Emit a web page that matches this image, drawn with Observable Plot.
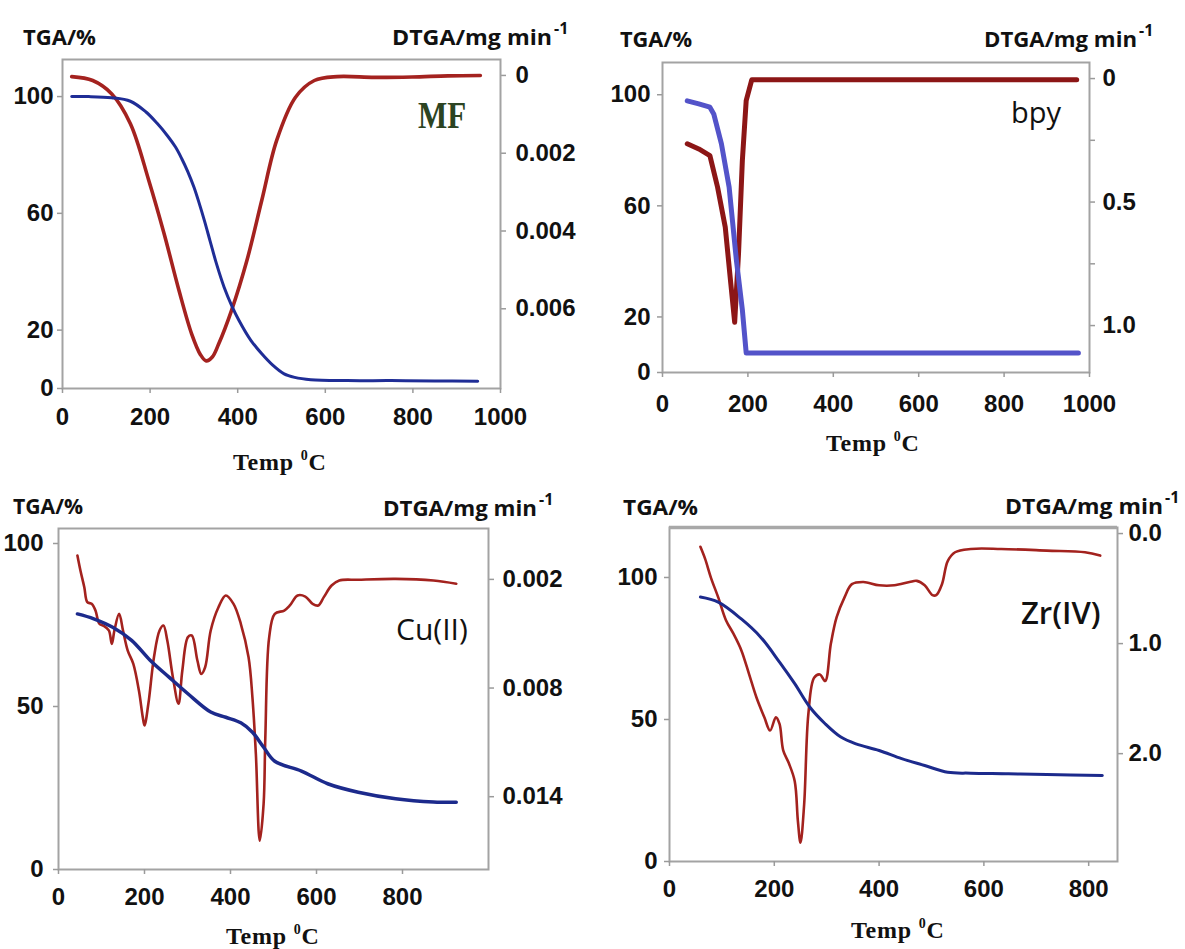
<!DOCTYPE html>
<html><head><meta charset="utf-8">
<script src="https://cdn.jsdelivr.net/npm/d3@7"></script>
<script src="https://cdn.jsdelivr.net/npm/@observablehq/plot@0.6"></script>
<style>
body{margin:0;background:#fff;}
#root{position:relative;width:1185px;height:949px;overflow:hidden;background:#fff;}
.layer{position:absolute;}
</style></head><body><div id="root"></div>
<script>
// ---------- Panel 1: MF ----------
const mfTgaTemp  = [21, 60, 112, 155, 190, 215, 240, 258, 272, 286, 300, 312, 324, 337, 352, 369, 386, 403, 430, 455, 480, 506, 530, 567, 650, 750, 850, 948];
const mfTgaValue = [100, 100, 99.6, 98.4, 94.8, 91.0, 86.5, 82.7, 78.8, 74.3, 69.0, 63.5, 57.5, 50.5, 42.5, 34.7, 28.5, 23.3, 16.5, 11.9, 8.0, 5.0, 3.8, 3.0, 2.7, 2.7, 2.6, 2.5];
const mfDtgaTemp  = [21, 69, 112, 155, 197, 232, 266, 295, 315, 328, 342, 356, 386, 421, 455, 489, 532, 575, 627, 712, 798, 880, 954];
const mfDtgaValue = [0.00003, 0.00013, 0.00047, 0.00124, 0.0027, 0.00407, 0.00553, 0.00665, 0.00718, 0.00734, 0.00724, 0.00692, 0.00604, 0.00476, 0.00321, 0.00167, 0.00056, 0.00013, 0.00003, 0.00005, 0.00004, 0.00001, 0.0];

// ---------- Panel 2: bpy ----------
const bpyTgaTemp  = [58, 85, 111, 120, 138, 156, 173, 187, 196, 974];
const bpyTgaValue = [97.8, 96.7, 95.5, 93.1, 82.3, 66.8, 40.5, 22.6, 7.0, 7.0];
const bpyDtgaTemp  = [58, 85, 111, 129, 147, 160, 169, 178, 187, 196, 209, 970];
const bpyDtgaValue = [0.264, 0.285, 0.312, 0.44, 0.602, 0.831, 0.987, 0.71, 0.332, 0.089, 0.005, 0.005];

// ---------- Panel 3: Cu(II) ----------
const cuTgaTemp  = [44, 82, 126, 170, 213, 257, 301, 354, 389, 424, 451, 477, 503, 565, 626, 697, 784, 872, 925];
const cuTgaValue = [78.4, 76.9, 74.3, 70.3, 64.2, 59.0, 53.9, 48.3, 46.7, 45.0, 42.1, 37.5, 33.2, 30.2, 26.3, 23.7, 21.7, 20.7, 20.6];
const cuDtgaTemp  = [44, 51, 60, 67, 77, 86, 95, 104, 117, 124, 130, 141, 150, 161, 174, 187, 196, 200, 209, 222, 235, 244, 253, 266, 279, 288, 301, 310, 323, 332, 341, 354, 372, 389, 407, 424, 442, 451, 459, 468, 477, 481, 490, 503, 525, 538, 556, 574, 591, 604, 617, 635, 653, 697, 784, 872, 925];
const cuDtgaValue = [0.00068, 0.00151, 0.00243, 0.00326, 0.00335, 0.00372, 0.00445, 0.00455, 0.00482, 0.00556, 0.00482, 0.0039, 0.00482, 0.00593, 0.00666, 0.00814, 0.00961, 0.01007, 0.00887, 0.0063, 0.00482, 0.00455, 0.00538, 0.0074, 0.00887, 0.00703, 0.00519, 0.0051, 0.00648, 0.00722, 0.00685, 0.00482, 0.00354, 0.00289, 0.00335, 0.00445, 0.0063, 0.00851, 0.01164, 0.01643, 0.0144, 0.01072, 0.00519, 0.0039, 0.00372, 0.00344, 0.00289, 0.00295, 0.00335, 0.00344, 0.00298, 0.00234, 0.00206, 0.00202, 0.00197, 0.00206, 0.00224];

// ---------- Panel 4: Zr(IV) ----------
const zrTgaTemp  = [59, 93, 137, 174, 210, 239, 268, 297, 327, 356, 400, 443, 487, 531, 575, 647, 720, 826];
const zrTgaValue = [93.1, 91.3, 85.4, 79.0, 70.2, 62.6, 54.3, 48.5, 43.8, 41.4, 39.1, 36.2, 33.8, 31.4, 31.1, 30.9, 30.6, 30.3];
const zrDtgaTemp  = [59, 68, 79, 93, 108, 122, 137, 152, 166, 181, 192, 203, 210, 217, 228, 239, 245, 250, 257, 265, 276, 287, 297, 308, 319, 334, 348, 370, 400, 429, 458, 472, 487, 502, 509, 520, 531, 545, 575, 633, 720, 793, 822];
const zrDtgaValue = [0.12, 0.23, 0.40, 0.58, 0.79, 0.91, 1.06, 1.28, 1.49, 1.67, 1.79, 1.67, 1.73, 1.97, 2.09, 2.25, 2.61, 2.81, 2.46, 1.64, 1.31, 1.28, 1.34, 1.00, 0.76, 0.58, 0.46, 0.44, 0.47, 0.47, 0.44, 0.43, 0.47, 0.56, 0.56, 0.46, 0.25, 0.17, 0.14, 0.14, 0.155, 0.17, 0.20];

// ---------- Tick labels ----------
const mfXTicks = [0, 200, 400, 600, 800, 1000];
const mfTgaTicks = [0, 20, 60, 100];
const mfDtgaTicks = [0, 0.002, 0.004, 0.006];
const bpyXTicks = [0, 200, 400, 600, 800, 1000];
const bpyTgaTicks = [0, 20, 60, 100];
const bpyDtgaTicks = [0, 0.25, 0.5, 0.75, 1.0];
const bpyDtgaLabels = ["0", "", "0.5", "", "1.0"];
const cuXTicks = [0, 200, 400, 600, 800];
const cuTgaTicks = [0, 50, 100];
const cuDtgaTicks = [0.002, 0.008, 0.014];
const zrXTicks = [0, 200, 400, 600, 800];
const zrTgaTicks = [0, 50, 100];
const zrDtgaTicks = [0, 1, 2];

const rows = (xs, ys) => xs.map((t, i) => ({t, v: ys[i]}));

const panels = [
  {left: 0, top: 0, width: 590, height: 470, m: [59, 90, 82, 62],
   xDomain: [0, 1000], tgaDomain: [0, 112.7], dtgaDomain: [-0.00041, 0.00805],
   xTicks: mfXTicks, tgaTicks: mfTgaTicks, dtgaTicks: mfDtgaTicks, dtgaFormat: d => String(d),
   tga: rows(mfTgaTemp, mfTgaValue), dtga: rows(mfDtgaTemp, mfDtgaValue),
   blue: "#1f2d96", red: "#a4221f", blueW: 3, redW: 3.6, curve: "catmull-rom",
   padL: 4, padR: 10, padB: 14, thickTop: false},
  {left: 590, top: 0, width: 595, height: 470, m: [62, 96, 98, 72],
   xDomain: [0, 1000], tgaDomain: [0, 111.6], dtgaDomain: [-0.065, 1.19],
   xTicks: bpyXTicks, tgaTicks: bpyTgaTicks, dtgaTicks: bpyDtgaTicks, dtgaFormat: (d, i) => bpyDtgaLabels[i],
   tga: rows(bpyTgaTemp, bpyTgaValue), dtga: rows(bpyDtgaTemp, bpyDtgaValue),
   blue: "#5353c9", red: "#8c1616", blueW: 5, redW: 5, curve: "linear",
   padL: 7, padR: 8, padB: 17, thickTop: false},
  {left: 0, top: 470, width: 590, height: 479, m: [58, 102, 80, 58],
   xDomain: [0, 1000], tgaDomain: [0, 104.6], dtgaDomain: [-0.00081, 0.01802],
   xTicks: cuXTicks, tgaTicks: cuTgaTicks, dtgaTicks: cuDtgaTicks, dtgaFormat: d => d.toFixed(3),
   tga: rows(cuTgaTemp, cuTgaValue), dtga: rows(cuDtgaTemp, cuDtgaValue),
   blue: "#1c2a8c", red: "#a3221e", blueW: 3.5, redW: 2.6, curve: "catmull-rom",
   padL: 10, padR: 9, padB: 13, thickTop: false},
  {left: 590, top: 470, width: 595, height: 479, m: [57, 68, 88, 79],
   xDomain: [0, 855], tgaDomain: [0, 117.6], dtgaDomain: [-0.055, 2.98],
   xTicks: zrXTicks, tgaTicks: zrTgaTicks, dtgaTicks: zrDtgaTicks, dtgaFormat: d => d.toFixed(1),
   tga: rows(zrTgaTemp, zrTgaValue), dtga: rows(zrDtgaTemp, zrDtgaValue),
   blue: "#1c2a8c", red: "#a3221e", blueW: 3, redW: 2.6, curve: "catmull-rom",
   padL: 7, padR: 6, padB: 13, thickTop: true}
];

const root = document.getElementById("root");
const tickFont = {fontFamily: "'Liberation Sans Narrow', 'Liberation Sans', Arial, sans-serif", fontSize: 24, fontWeight: "bold"};
const baseStyle = {fontFamily: "'Liberation Sans Narrow', 'Liberation Sans', Arial, sans-serif", fontSize: "24px", fontWeight: "bold", background: "transparent", color: "#111", overflow: "visible"};
const axisGrey = "#9a9a9a";

for (const p of panels) {
  const [mt, mr, mb, ml] = p.m;
  const common = {width: p.width, height: p.height, marginTop: mt, marginRight: mr, marginBottom: mb, marginLeft: ml, style: baseStyle};

  // DTGA layer (right axis, reversed)
  const dtgaPlot = Plot.plot({
    ...common,
    x: {domain: p.xDomain, axis: null},
    y: {domain: p.dtgaDomain, reverse: true, axis: null},
    marks: [
      Plot.axisY(p.dtgaTicks, {anchor: "right", tickSize: 5, tickPadding: p.padR, stroke: axisGrey, strokeWidth: 1.5, fill: "#111", tickFormat: p.dtgaFormat, label: null, ...tickFont}),
      Plot.line(p.dtga, {x: "t", y: "v", stroke: p.red, strokeWidth: p.redW, curve: p.curve, strokeLinejoin: "round", strokeLinecap: "round"})
    ]
  });

  // TGA layer (left + bottom axes, frame)
  const tgaMarks = [
    Plot.frame({stroke: "#a3a3a3", strokeWidth: 2}),
    Plot.axisY(p.tgaTicks, {anchor: "left", tickSize: 5, tickPadding: p.padL, stroke: axisGrey, strokeWidth: 1.5, fill: "#111", label: null, tickFormat: d => String(d), ...tickFont}),
    Plot.axisX(p.xTicks, {anchor: "bottom", tickSize: 5, tickPadding: p.padB, stroke: axisGrey, strokeWidth: 1.5, fill: "#111", label: null, tickFormat: d => String(d), ...tickFont}),
    Plot.line(p.tga, {x: "t", y: "v", stroke: p.blue, strokeWidth: p.blueW, curve: p.curve, strokeLinejoin: "round", strokeLinecap: "round"})
  ];
  if (p.thickTop) tgaMarks.splice(1, 0, Plot.ruleY([p.tgaDomain[1]], {stroke: "#a8a8a8", strokeWidth: 3.5}));
  const tgaPlot = Plot.plot({
    ...common,
    x: {domain: p.xDomain, axis: null},
    y: {domain: p.tgaDomain, axis: null},
    marks: tgaMarks
  });

  for (const svg of [dtgaPlot, tgaPlot]) {
    const wrap = document.createElement("div");
    wrap.className = "layer";
    wrap.style.left = p.left + "px";
    wrap.style.top = p.top + "px";
    wrap.style.width = p.width + "px";
    wrap.style.height = p.height + "px";
    wrap.appendChild(svg);
    root.appendChild(wrap);
  }
}

// ---------- Text annotations ----------
const tgaTitles = [
  {x: 23, y: 45, w: 73}, {x: 620, y: 47, w: 72}, {x: 13, y: 514, w: 70}, {x: 623, y: 515, w: 75}
];
const dtgaTitles = [
  {x: 392, y: 45, w: 160}, {x: 984, y: 47, w: 153}, {x: 383, y: 516, w: 154}, {x: 1005, y: 514, w: 158}
];
const tempLabels = [
  {x: 233, y: 470}, {x: 826, y: 451}, {x: 226, y: 944}, {x: 851, y: 938}
];
const sampleNames = ["MF", "bpy", "Cu(II)", "Zr(IV)"];

const svg = d3.create("svg")
  .attr("width", 1185).attr("height", 949)
  .style("position", "absolute").style("left", "0px").style("top", "0px")
  .style("pointer-events", "none").style("overflow", "visible");

for (const t of tgaTitles) {
  svg.append("text").attr("x", t.x).attr("y", t.y)
    .attr("font-family", "'Open Sans', sans-serif").attr("font-weight", "bold").attr("font-size", 21)
    .attr("fill", "#111").attr("textLength", t.w).attr("lengthAdjust", "spacingAndGlyphs")
    .text("TGA/%");
}
for (const t of dtgaTitles) {
  svg.append("text").attr("x", t.x).attr("y", t.y)
    .attr("font-family", "'Open Sans', sans-serif").attr("font-weight", "bold").attr("font-size", 21)
    .attr("fill", "#111").attr("textLength", t.w).attr("lengthAdjust", "spacingAndGlyphs")
    .text("DTGA/mg min");
  svg.append("text").attr("x", t.x + t.w + 2).attr("y", t.y - 11)
    .attr("font-family", "'Open Sans', sans-serif").attr("font-weight", "bold").attr("font-size", 16)
    .attr("fill", "#111").text("-1");
}
for (const t of tempLabels) {
  const tx = svg.append("text").attr("x", t.x).attr("y", t.y)
    .attr("font-family", "'Liberation Serif', 'Times New Roman', serif").attr("font-weight", "bold")
    .attr("font-size", 24).attr("fill", "#111").attr("letter-spacing", 0.8);
  tx.append("tspan").text("Temp ");
  tx.append("tspan").attr("font-size", 14).attr("dy", -10).text("0");
  tx.append("tspan").attr("dy", 10).text("C");
}
// sample names
svg.append("text").attr("transform", "translate(418,128) scale(1,1.25)")
  .attr("font-family", "'Liberation Serif', 'Times New Roman', serif").attr("font-weight", "bold")
  .attr("font-size", 31).attr("fill", "#2c4422").text(sampleNames[0]);
svg.append("text").attr("x", 1011).attr("y", 123)
  .attr("font-family", "'Open Sans', sans-serif").attr("font-size", 29).attr("fill", "#111").text(sampleNames[1]);
svg.append("text").attr("x", 396).attr("y", 640)
  .attr("font-family", "'Open Sans', sans-serif").attr("font-weight", 500).attr("font-size", 30).attr("fill", "#111").text(sampleNames[2]);
svg.append("text").attr("x", 1021).attr("y", 624)
  .attr("font-family", "'Open Sans', sans-serif").attr("font-weight", 600).attr("font-size", 31).attr("fill", "#111").text(sampleNames[3]);

root.appendChild(svg.node());
</script></body></html>
